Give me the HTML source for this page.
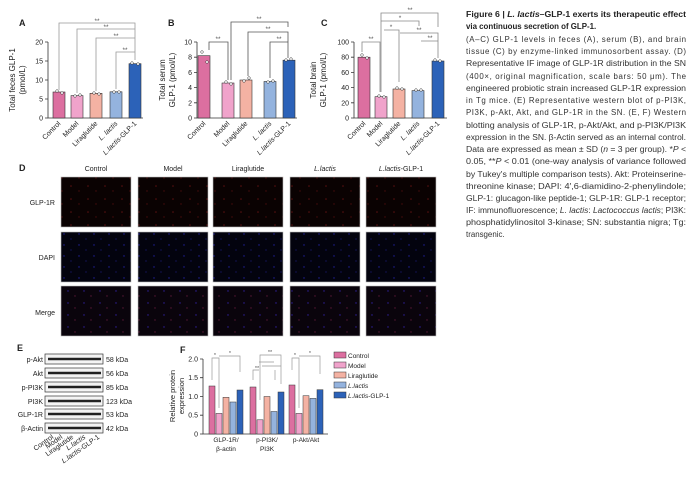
<!DOCTYPE html>
<html><head><meta charset="utf-8"><style>
body{margin:0;background:#fff;}
svg{display:block;font-family:"Liberation Sans",sans-serif;}
.cap{font-family:"Liberation Sans",sans-serif;font-size:7.9px;fill:#333;}
</style></head><body>
<svg width="699" height="479" viewBox="0 0 699 479" xmlns="http://www.w3.org/2000/svg">
<defs>
<pattern id="pr" width="17" height="13" patternUnits="userSpaceOnUse"><rect width="17" height="13" fill="#0a0202"/><circle cx="3" cy="4" r="0.8" fill="#5a1010"/><circle cx="11" cy="9" r="0.7" fill="#4a0c0c"/></pattern>
<pattern id="pb" width="15" height="11" patternUnits="userSpaceOnUse"><rect width="15" height="11" fill="#03030e"/><circle cx="4" cy="3" r="0.7" fill="#2020a0"/><circle cx="11" cy="8" r="0.6" fill="#181880"/></pattern>
<pattern id="pm" width="16" height="12" patternUnits="userSpaceOnUse"><rect width="16" height="12" fill="#0a040c"/><circle cx="4" cy="3" r="0.7" fill="#3020a0"/><circle cx="11" cy="8" r="0.7" fill="#5a1838"/></pattern>
</defs>
<g font-size="7" fill="#222">
<!-- Panel A -->
<text x="19" y="26" font-size="9" font-weight="bold">A</text>
<g stroke="#333" stroke-width="0.8" fill="none"><path d="M48 42V118H143"/><path d="M45 42H48M45 61H48M45 80H48M45 99H48M45 118H48"/></g>
<g text-anchor="end"><text x="43" y="44.5">20</text><text x="43" y="63.5">15</text><text x="43" y="82.5">10</text><text x="43" y="101.5">5</text><text x="43" y="120.5">0</text></g>
<text transform="translate(15,80) rotate(-90)" text-anchor="middle" font-size="8">Total feces GLP-1</text>
<text transform="translate(25,80) rotate(-90)" text-anchor="middle" font-size="8">(pmol/L)</text>
<g stroke="#333" stroke-width="0.6">
<rect x="53" y="92" width="12" height="26" fill="#dc6fa0"/><rect x="71" y="95.6" width="12" height="22.4" fill="#f0a3cb"/><rect x="90" y="93.3" width="12" height="24.7" fill="#f4b2a3"/><rect x="110" y="91.8" width="12" height="26.2" fill="#94b3de"/><rect x="129" y="63.7" width="12" height="54.3" fill="#2c62b8"/>
</g>
<g fill="#fff" stroke="#333" stroke-width="0.5"><circle cx="57" cy="91" r="1.3"/><circle cx="62" cy="93" r="1.3"/><circle cx="75" cy="96" r="1.3"/><circle cx="80" cy="95" r="1.3"/><circle cx="94" cy="93" r="1.3"/><circle cx="99" cy="94" r="1.3"/><circle cx="114" cy="92" r="1.3"/><circle cx="119" cy="92" r="1.3"/><circle cx="132" cy="63" r="1.3"/><circle cx="138" cy="64" r="1.3"/></g>
<g fill="none" stroke="#999" stroke-width="0.8"><path d="M59 90V23H135V60M77 93V29H135M96 91V38H135M116 89V52H135"/></g>
<g text-anchor="middle" font-size="6.5" fill="#555"><text x="97" y="23">**</text><text x="106" y="29">**</text><text x="116" y="38">**</text><text x="125" y="52">**</text></g>
<g text-anchor="end">
<text transform="translate(61,124) rotate(-45)">Control</text><text transform="translate(79,124) rotate(-45)">Model</text><text transform="translate(98,124) rotate(-45)">Liraglutide</text><text transform="translate(118,124) rotate(-45)" font-style="italic">L. lactis</text><text transform="translate(137,124) rotate(-45)"><tspan font-style="italic">L.lactis</tspan>-GLP-1</text>
</g>
<!-- Panel B -->
<text x="168" y="26" font-size="9" font-weight="bold">B</text>
<g stroke="#333" stroke-width="0.8" fill="none"><path d="M197 42V118H297"/><path d="M194 42H197M194 57.2H197M194 72.4H197M194 87.6H197M194 102.8H197M194 118H197"/></g>
<g text-anchor="end"><text x="192" y="44.5">10</text><text x="192" y="59.7">8</text><text x="192" y="74.9">6</text><text x="192" y="90.1">4</text><text x="192" y="105.3">2</text><text x="192" y="120.5">0</text></g>
<text transform="translate(165,80) rotate(-90)" text-anchor="middle" font-size="8">Total serum</text>
<text transform="translate(175,80) rotate(-90)" text-anchor="middle" font-size="8">GLP-1 (pmol/L)</text>
<g stroke="#333" stroke-width="0.6">
<rect x="198" y="55.7" width="12" height="62.3" fill="#dc6fa0"/><rect x="222" y="83" width="12" height="35" fill="#f0a3cb"/><rect x="240" y="80" width="12" height="38" fill="#f4b2a3"/><rect x="264" y="81.5" width="12" height="36.5" fill="#94b3de"/><rect x="283" y="60.2" width="12" height="57.8" fill="#2c62b8"/>
</g>
<g fill="#fff" stroke="#333" stroke-width="0.5"><circle cx="202" cy="52" r="1.3"/><circle cx="207" cy="62" r="1.3"/><circle cx="226" cy="82" r="1.3"/><circle cx="231" cy="84" r="1.3"/><circle cx="244" cy="81" r="1.3"/><circle cx="249" cy="78" r="1.3"/><circle cx="268" cy="82" r="1.3"/><circle cx="273" cy="81" r="1.3"/><circle cx="286" cy="60" r="1.3"/><circle cx="291" cy="59" r="1.3"/></g>
<g fill="none" stroke="#555" stroke-width="0.8"><path d="M209 50V42H228V80M231 80V22H288V27M248 76V32H288V58M270 78V42H288M288 45V58"/></g>
<g text-anchor="middle" font-size="6.5" fill="#555"><text x="218" y="41">**</text><text x="259" y="21">**</text><text x="268" y="31">**</text><text x="279" y="41">**</text></g>
<g text-anchor="end">
<text transform="translate(206,124) rotate(-45)">Control</text><text transform="translate(230,124) rotate(-45)">Model</text><text transform="translate(248,124) rotate(-45)">Liraglutide</text><text transform="translate(272,124) rotate(-45)" font-style="italic">L. lactis</text><text transform="translate(291,124) rotate(-45)"><tspan font-style="italic">L.lactis</tspan>-GLP-1</text>
</g>
<!-- Panel C -->
<text x="321" y="26" font-size="9" font-weight="bold">C</text>
<g stroke="#333" stroke-width="0.8" fill="none"><path d="M354 42V118H447"/><path d="M351 42H354M351 57.2H354M351 72.4H354M351 87.6H354M351 102.8H354M351 118H354"/></g>
<g text-anchor="end"><text x="349" y="44.5">100</text><text x="349" y="59.7">80</text><text x="349" y="74.9">60</text><text x="349" y="90.1">40</text><text x="349" y="105.3">20</text><text x="349" y="120.5">0</text></g>
<text transform="translate(316,80) rotate(-90)" text-anchor="middle" font-size="8">Total brain</text>
<text transform="translate(326,80) rotate(-90)" text-anchor="middle" font-size="8">GLP-1 (pmol/L)</text>
<g stroke="#333" stroke-width="0.6">
<rect x="358" y="57.2" width="12" height="60.8" fill="#dc6fa0"/><rect x="375" y="96.7" width="12" height="21.3" fill="#f0a3cb"/><rect x="393" y="89" width="12" height="29" fill="#f4b2a3"/><rect x="412" y="90.6" width="12" height="27.4" fill="#94b3de"/><rect x="432" y="61" width="12" height="57" fill="#2c62b8"/>
</g>
<g fill="#fff" stroke="#333" stroke-width="0.5"><circle cx="362" cy="55" r="1.3"/><circle cx="367" cy="58" r="1.3"/><circle cx="379" cy="96" r="1.3"/><circle cx="384" cy="97" r="1.3"/><circle cx="397" cy="88" r="1.3"/><circle cx="402" cy="89" r="1.3"/><circle cx="416" cy="90" r="1.3"/><circle cx="421" cy="90" r="1.3"/><circle cx="435" cy="60" r="1.3"/><circle cx="440" cy="61" r="1.3"/></g>
<g fill="none" stroke="#888" stroke-width="0.8"><path d="M362 52V42H380V92M381 92V13H438V27M381 21H419V26M384 30H399V82M400 33H438V58M421 41H438"/></g>
<g text-anchor="middle" font-size="6.5" fill="#555"><text x="371" y="41">**</text><text x="410" y="12">**</text><text x="400" y="20">*</text><text x="391" y="29">*</text><text x="419" y="32">**</text><text x="430" y="40">**</text></g>
<g text-anchor="end">
<text transform="translate(366,124) rotate(-45)">Control</text><text transform="translate(383,124) rotate(-45)">Model</text><text transform="translate(401,124) rotate(-45)">Liraglutide</text><text transform="translate(420,124) rotate(-45)" font-style="italic">L. lactis</text><text transform="translate(440,124) rotate(-45)"><tspan font-style="italic">L.lactis</tspan>-GLP-1</text>
</g>
<!-- Panel D -->
<text x="19" y="171" font-size="9" font-weight="bold">D</text>
<g text-anchor="middle"><text x="96" y="171">Control</text><text x="173" y="171">Model</text><text x="248" y="171">Liraglutide</text><text x="325" y="171" font-style="italic">L.lactis</text><text x="401" y="171"><tspan font-style="italic">L.lactis</tspan>-GLP-1</text></g>
<g text-anchor="end"><text x="55" y="205">GLP-1R</text><text x="55" y="260">DAPI</text><text x="55" y="315">Merge</text></g>
<g stroke="#bbb" stroke-width="0.6">
<rect x="61" y="177" width="70" height="50" fill="url(#pr)"/><rect x="138" y="177" width="70" height="50" fill="url(#pr)"/><rect x="213" y="177" width="70" height="50" fill="url(#pr)"/><rect x="290" y="177" width="70" height="50" fill="url(#pr)"/><rect x="366" y="177" width="70" height="50" fill="url(#pr)"/>
<rect x="61" y="232" width="70" height="50" fill="url(#pb)"/><rect x="138" y="232" width="70" height="50" fill="url(#pb)"/><rect x="213" y="232" width="70" height="50" fill="url(#pb)"/><rect x="290" y="232" width="70" height="50" fill="url(#pb)"/><rect x="366" y="232" width="70" height="50" fill="url(#pb)"/>
<rect x="61" y="286" width="70" height="50" fill="url(#pm)"/><rect x="138" y="286" width="70" height="50" fill="url(#pm)"/><rect x="213" y="286" width="70" height="50" fill="url(#pm)"/><rect x="290" y="286" width="70" height="50" fill="url(#pm)"/><rect x="366" y="286" width="70" height="50" fill="url(#pm)"/>
</g>
<!-- Panel E -->
<text x="17" y="351" font-size="9" font-weight="bold">E</text>
<g stroke="#333" stroke-width="0.7" fill="#f4f4f4">
<rect x="45" y="354" width="58" height="10"/><rect x="45" y="368" width="58" height="10"/><rect x="45" y="382" width="58" height="10"/><rect x="45" y="396" width="58" height="10"/><rect x="45" y="409" width="58" height="10"/><rect x="45" y="423" width="58" height="10"/>
</g>
<g stroke="#222" stroke-width="2.4"><path d="M48 359H101M48 373H101M48 387H101M48 401H101M48 414H101M48 428H101"/></g>
<g text-anchor="end"><text x="43" y="362">p-Akt</text><text x="43" y="376">Akt</text><text x="43" y="390">p-PI3K</text><text x="43" y="404">PI3K</text><text x="43" y="417">GLP-1R</text><text x="43" y="431">β-Actin</text></g>
<g><text x="106" y="362">58 kDa</text><text x="106" y="376">56 kDa</text><text x="106" y="390">85 kDa</text><text x="106" y="404">123 kDa</text><text x="106" y="417">53 kDa</text><text x="106" y="431">42 kDa</text></g>
<g text-anchor="end"><text transform="translate(54,438) rotate(-35)">Control</text><text transform="translate(63,438) rotate(-35)">Model</text><text transform="translate(74,438) rotate(-35)">Liraglutide</text><text transform="translate(86,438) rotate(-35)" font-style="italic">L.lactis</text><text transform="translate(100,438) rotate(-35)"><tspan font-style="italic">L.lactis</tspan>-GLP-1</text></g>
<!-- Panel F -->
<text x="180" y="353" font-size="9" font-weight="bold">F</text>
<g stroke="#333" stroke-width="0.8" fill="none"><path d="M203 359V434H328"/><path d="M200 359H203M200 377.7H203M200 396.5H203M200 415.2H203M200 434H203"/></g>
<g text-anchor="end"><text x="198" y="361.5">2.0</text><text x="198" y="380.2">1.5</text><text x="198" y="399">1.0</text><text x="198" y="417.7">0.5</text><text x="198" y="436.5">0</text></g>
<text transform="translate(175,396) rotate(-90)" text-anchor="middle" font-size="7.5">Relative protein</text>
<text transform="translate(184,396) rotate(-90)" text-anchor="middle" font-size="7.5">expression</text>
<g stroke="#333" stroke-width="0.5">
<rect x="209" y="386" width="6" height="48" fill="#dc6fa0"/><rect x="216" y="413.4" width="6" height="20.6" fill="#f0a3cb"/><rect x="223" y="397.3" width="6" height="36.7" fill="#f4b2a3"/><rect x="230" y="402" width="6" height="32" fill="#94b3de"/><rect x="237" y="390" width="6" height="44" fill="#2c62b8"/>
<rect x="250" y="387" width="6" height="47" fill="#dc6fa0"/><rect x="257" y="419.8" width="6" height="14.2" fill="#f0a3cb"/><rect x="264" y="396.5" width="6" height="37.5" fill="#f4b2a3"/><rect x="271" y="411.5" width="6" height="22.5" fill="#94b3de"/><rect x="278" y="392" width="6" height="42" fill="#2c62b8"/>
<rect x="289" y="385" width="6" height="49" fill="#dc6fa0"/><rect x="296" y="413.4" width="6" height="20.6" fill="#f0a3cb"/><rect x="303" y="395.7" width="6" height="38.3" fill="#f4b2a3"/><rect x="310" y="398.4" width="6" height="35.6" fill="#94b3de"/><rect x="317" y="389.7" width="6" height="44.3" fill="#2c62b8"/>
</g>
<g fill="none" stroke="#999" stroke-width="0.7"><path d="M212 380V358H219V408M219 356H240V372M253 380V370H259M260 400V355H281V384M259 362H274M262 366H281M275 370V380M292 370V358H299V408M299 356H320V374"/></g>
<g text-anchor="middle" font-size="5.5" fill="#555"><text x="215" y="357">*</text><text x="230" y="355">*</text><text x="257" y="370">**</text><text x="270" y="354">**</text><text x="295" y="357">*</text><text x="310" y="355">*</text></g>
<g text-anchor="middle" font-size="6.5"><text x="226" y="442">GLP-1R/</text><text x="226" y="451">β-actin</text><text x="267" y="442">p-PI3K/</text><text x="267" y="451">PI3K</text><text x="306" y="442">p-Akt/Akt</text></g>
<g stroke="#333" stroke-width="0.5"><rect x="334" y="352" width="12" height="6" fill="#dc6fa0"/><rect x="334" y="362" width="12" height="6" fill="#f0a3cb"/><rect x="334" y="372" width="12" height="6" fill="#f4b2a3"/><rect x="334" y="382" width="12" height="6" fill="#94b3de"/><rect x="334" y="392" width="12" height="6" fill="#2c62b8"/></g>
<g font-size="6.5"><text x="348" y="358">Control</text><text x="348" y="368">Model</text><text x="348" y="378">Liraglutide</text><text x="348" y="388" font-style="italic">L.lactis</text><text x="348" y="398"><tspan font-style="italic">L.lactis</tspan>-GLP-1</text></g>
</g>
<!-- Caption -->
<g class="cap">
<text x="466" y="17" font-weight="bold" fill="#222" textLength="220" lengthAdjust="spacingAndGlyphs">Figure 6  |  <tspan font-style="italic">L. lactis</tspan>–GLP-1 exerts its therapeutic effect</text>
<text x="466" y="29" font-weight="bold" fill="#222">via continuous secretion of GLP-1.</text>
<text x="466" y="42" textLength="220" lengthAdjust="spacing">(A–C) GLP-1 levels in feces (A), serum (B), and brain</text>
<text x="466" y="54" textLength="220" lengthAdjust="spacing">tissue (C) by enzyme-linked immunosorbent assay. (D)</text>
<text x="466" y="66" textLength="220" lengthAdjust="spacingAndGlyphs">Representative IF image of GLP-1R distribution in the SN</text>
<text x="466" y="79" textLength="220" lengthAdjust="spacing">(400×, original magnification, scale bars: 50 μm). The</text>
<text x="466" y="91" textLength="220" lengthAdjust="spacingAndGlyphs">engineered probiotic strain increased GLP-1R expression</text>
<text x="466" y="103" textLength="220" lengthAdjust="spacing">in Tg mice. (E) Representative western blot of p-PI3K,</text>
<text x="466" y="115" textLength="220" lengthAdjust="spacing">PI3K, p-Akt, Akt, and GLP-1R in the SN. (E, F) Western</text>
<text x="466" y="128" textLength="220" lengthAdjust="spacingAndGlyphs">blotting analysis of GLP-1R, p-Akt/Akt, and p-PI3K/PI3K</text>
<text x="466" y="140" textLength="220" lengthAdjust="spacingAndGlyphs">expression in the SN. β-Actin served as an internal control.</text>
<text x="466" y="152" textLength="220" lengthAdjust="spacingAndGlyphs">Data are expressed as mean ± SD (<tspan font-style="italic">n</tspan> = 3 per group). *<tspan font-style="italic">P</tspan> &lt;</text>
<text x="466" y="164" textLength="220" lengthAdjust="spacingAndGlyphs">0.05, **<tspan font-style="italic">P</tspan> &lt; 0.01 (one-way analysis of variance followed</text>
<text x="466" y="177" textLength="220" lengthAdjust="spacingAndGlyphs">by Tukey's multiple comparison tests). Akt: Proteinserine-</text>
<text x="466" y="189" textLength="220" lengthAdjust="spacingAndGlyphs">threonine kinase; DAPI: 4′,6-diamidino-2-phenylindole;</text>
<text x="466" y="201" textLength="220" lengthAdjust="spacingAndGlyphs">GLP-1: glucagon-like peptide-1; GLP-1R: GLP-1 receptor;</text>
<text x="466" y="213" textLength="220" lengthAdjust="spacingAndGlyphs">IF: immunofluorescence; <tspan font-style="italic">L. lactis</tspan>: <tspan font-style="italic">Lactococcus lactis</tspan>; PI3K:</text>
<text x="466" y="225" textLength="220" lengthAdjust="spacingAndGlyphs">phosphatidylinositol 3-kinase; SN: substantia nigra; Tg:</text>
<text x="466" y="237">transgenic.</text>
</g>
</svg>
</body></html>
